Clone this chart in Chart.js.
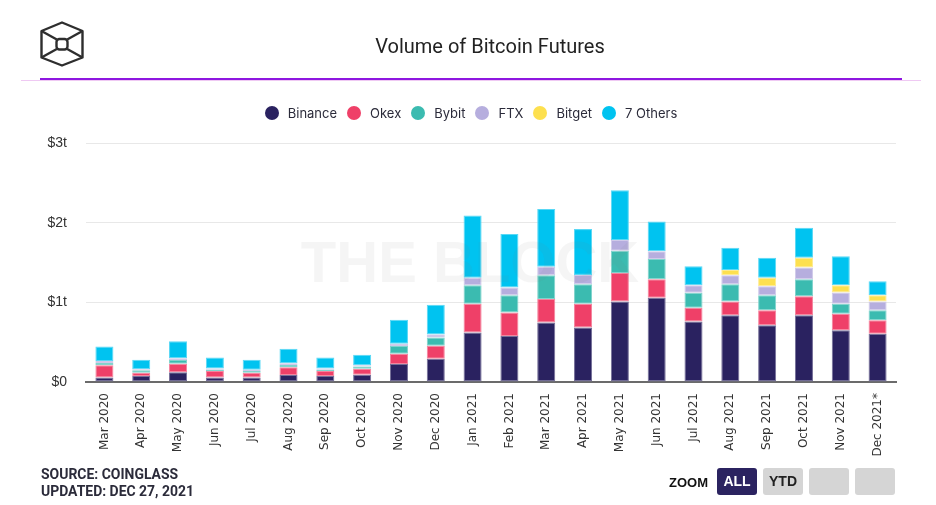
<!DOCTYPE html>
<html>
<head>
<meta charset="utf-8">
<script src="https://cdn.jsdelivr.net/npm/chart.js@4.4.1/dist/chart.umd.min.js"></script>
<style>
  html, body { margin: 0; padding: 0; background: #fff; }
  #wrap { position: relative; width: 936px; height: 505px; overflow: hidden; }
  #chart { position: absolute; left: 0; top: 0; }
  .title { position: absolute; left: 0; width: 980px; top: 34px; text-align: center; font-family: "Liberation Sans Narrow", "Roboto", sans-serif; font-size: 20px; color: #222; }
  .pinkline { position: absolute; left: 21px; width: 900px; top: 80px; height: 1px; background: #efc9f3; }
  .purpleline { position: absolute; left: 40px; width: 862px; top: 78px; height: 2px; background: #8e16e0; }
  .legend { position: absolute; top: 105px; left: 0; width: 942px; display: flex; justify-content: center; font-family: "Inter", "Lato", sans-serif; font-size: 13px; color: #2b2b3a; }
  .legend .item { display: flex; align-items: center; margin: 0 5px; }
  .legend .dot { width: 14px; height: 14px; border-radius: 50%; margin-right: 9px; }
  .footer { position: absolute; left: 41px; top: 466px; font-family: "Liberation Sans Narrow", "Roboto", sans-serif; font-size: 15px; font-weight: bold; color: #2b2b3a; line-height: 17px; transform: scaleX(0.93); transform-origin: 0 0; }
  .zoom { position: absolute; left: 669px; top: 475px; font-family: "Liberation Sans", Arial, sans-serif; font-size: 13px; font-weight: bold; color: #111; }
  .btn { position: absolute; top: 468px; height: 27px; width: 40px; border-radius: 3px; background: #d5d5d5; font-family: "Liberation Sans", Arial, sans-serif; font-size: 14px; font-weight: bold; color: #222; text-align: center; line-height: 27px; }
</style>
</head>
<body>
<div id="wrap">
  <canvas id="chart" width="936" height="505"></canvas>
  <svg style="position:absolute;left:0;top:0" width="100" height="80">
    <g fill="none" stroke="#2e2e2e" stroke-width="2.4" stroke-linejoin="round">
      <polygon points="62,22.5 82.5,31 82.5,57.5 62,65.5 41.5,57.5 41.5,31"/>
      <rect x="56.5" y="39" width="11" height="10.5" rx="3"/>
      <line x1="41.5" y1="31" x2="56.8" y2="39.5"/>
      <line x1="82.5" y1="31" x2="67.2" y2="39.5"/>
      <line x1="41.5" y1="57.5" x2="56.8" y2="49"/>
      <line x1="82.5" y1="57.5" x2="67.2" y2="49"/>
    </g>
  </svg>
  <div class="title">Volume of Bitcoin Futures</div>
  <div class="pinkline"></div>
  <div class="purpleline"></div>
  <div class="legend" id="legend"></div>
  <div class="footer">SOURCE: COINGLASS<br>UPDATED: DEC 27, 2021</div>
  <div class="zoom">ZOOM</div>
  <div class="btn" style="left:717px;background:#2b2360;color:#fff;">ALL</div>
  <div class="btn" style="left:763px;">YTD</div>
  <div class="btn" style="left:809px;"></div>
  <div class="btn" style="left:855px;"></div>
</div>
<script>
const categories = ["Mar 2020","Apr 2020","May 2020","Jun 2020","Jul 2020","Aug 2020","Sep 2020","Oct 2020","Nov 2020","Dec 2020","Jan 2021","Feb 2021","Mar 2021","Apr 2021","May 2021","Jun 2021","Jul 2021","Aug 2021","Sep 2021","Oct 2021","Nov 2021","Dec 2021*"];
const seriesNames = ["Binance","Okex","Bybit","FTX","Bitget","7 Others"];
const seriesColors = ["#2a2260","#ef4068","#3bbbb0","#b6aede","#fde04f","#00c3f0"];
const binance = [0.055,0.075,0.121,0.055,0.055,0.088,0.075,0.092,0.225,0.293,0.622,0.576,0.747,0.685,1.010,1.056,0.760,0.839,0.713,0.839,0.651,0.606];
const okex    = [0.154,0.042,0.109,0.083,0.062,0.096,0.063,0.075,0.130,0.163,0.359,0.296,0.296,0.296,0.359,0.233,0.171,0.171,0.188,0.238,0.205,0.170];
const bybit   = [0.029,0.029,0.046,0.017,0.021,0.029,0.017,0.029,0.096,0.103,0.233,0.217,0.296,0.246,0.279,0.255,0.188,0.217,0.188,0.212,0.125,0.125];
const ftx     = [0.025,0.013,0.021,0.016,0.017,0.021,0.016,0.013,0.029,0.038,0.096,0.096,0.109,0.117,0.134,0.096,0.095,0.112,0.113,0.147,0.142,0.109];
const bitget  = [0,0,0,0,0,0,0,0,0,0,0,0,0,0,0,0,0,0.068,0.108,0.125,0.091,0.079];
const others  = [0.184,0.121,0.216,0.138,0.125,0.184,0.138,0.134,0.301,0.372,0.780,0.672,0.722,0.576,0.626,0.375,0.238,0.279,0.251,0.375,0.363,0.175];
const yTicks = [0,1,2,3];

const seriesData = [binance, okex, bybit, ftx, bitget, others];

// HTML legend
const legendEl = document.getElementById('legend');
seriesNames.forEach((n, i) => {
  const it = document.createElement('div'); it.className = 'item';
  const d = document.createElement('span'); d.className = 'dot'; d.style.background = seriesColors[i];
  const t = document.createElement('span'); t.textContent = n;
  it.appendChild(d); it.appendChild(t); legendEl.appendChild(it);
});

function lighten(hex, a) {
  const r = parseInt(hex.slice(1,3),16), g = parseInt(hex.slice(3,5),16), b = parseInt(hex.slice(5,7),16);
  const f = c => Math.round(c + (255 - c) * a);
  return `rgb(${f(r)},${f(g)},${f(b)})`;
}

const watermark = {
  id: 'watermark',
  afterDatasetsDraw(chart) {
    const ctx = chart.ctx;
    ctx.save();
    ctx.font = 'bold 58px "Liberation Sans", Arial, sans-serif';
    ctx.fillStyle = 'rgba(120,120,120,0.075)';
    ctx.textAlign = 'center';
    ctx.textBaseline = 'middle';
    ctx.fillText('THE BLOCK', 470, 266);
    ctx.restore();
  }
};

new Chart(document.getElementById('chart'), {
  type: 'bar',
  data: {
    labels: categories,
    datasets: seriesNames.map((n, i) => ({
      label: n,
      data: seriesData[i],
      backgroundColor: seriesColors[i],
      borderColor: lighten(seriesColors[i], 0.35),
      borderWidth: 1,
      borderSkipped: false,
      categoryPercentage: 1,
      barPercentage: 0.49
    }))
  },
  options: {
    responsive: false,
    animation: false,
    layout: { padding: { top: 143, right: 40, left: 0, bottom: 0 } },
    plugins: { legend: { display: false }, tooltip: { enabled: false } },
    scales: {
      x: {
        stacked: true,
        grid: { display: false, drawTicks: false },
        border: { display: true, color: '#6b6b6b', width: 2 },
        ticks: {
          minRotation: 90, maxRotation: 90, autoSkip: false, padding: 11,
          color: '#333', font: { family: '"DejaVu Sans", sans-serif', size: 12 }
        },
        afterFit(s) { s.height = 123; }
      },
      y: {
        stacked: true, min: 0, max: 3,
        afterBuildTicks(s) { s.ticks = yTicks.map(v => ({ value: v })); },
        grid: { color: '#e8e8e8', lineWidth: 1, drawTicks: false },
        border: { display: false },
        ticks: {
          padding: 19, color: '#333',
          font: { family: '"Liberation Sans", Arial, sans-serif', size: 14 },
          callback: v => v === 0 ? '$0' : '$' + v + 't'
        },
        afterFit(s) { s.width = 86; }
      }
    }
  },
  plugins: [watermark]
});
</script>
</body>
</html>
